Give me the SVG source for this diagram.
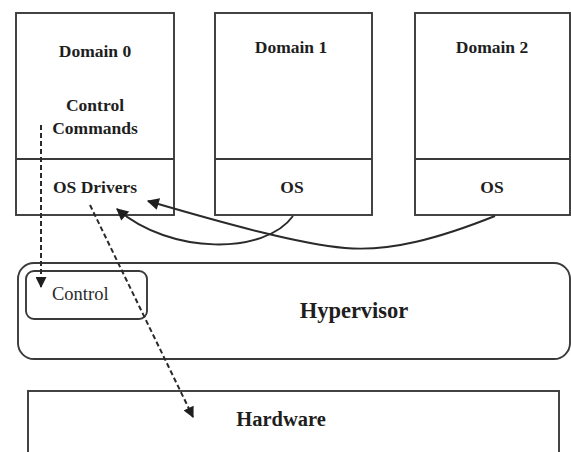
<svg xmlns="http://www.w3.org/2000/svg" width="571" height="452" viewBox="0 0 571 452">
<defs>
<style>
.box{fill:#fff;stroke:#3a3a3a;stroke-width:1.9}
.lbl{font-family:"Liberation Serif",serif;font-weight:bold;font-size:17.5px;fill:#1e1e1e;text-anchor:middle}
.reg{font-family:"Liberation Serif",serif;font-size:18.5px;fill:#2a2a2a}
.conn{fill:none;stroke:#2a2a2a;stroke-width:1.9}
.dash{fill:none;stroke:#2a2a2a;stroke-width:2;stroke-dasharray:5 3}
</style>
<marker id="ah" viewBox="0 0 10 10" refX="9" refY="5" markerWidth="12" markerHeight="11" markerUnits="userSpaceOnUse" orient="auto">
<path d="M0,0 L10,5 L0,10 z" fill="#1e1e1e"/>
</marker>
<marker id="ah2" viewBox="0 0 10 10" refX="9" refY="5" markerWidth="13" markerHeight="12" markerUnits="userSpaceOnUse" orient="auto">
<path d="M0,0 L10,5 L0,10 z" fill="#1e1e1e"/>
</marker>
</defs>
<rect width="571" height="452" fill="#fff"/>
<g id="domain0">
<rect class="box" x="16" y="13" width="158" height="202"/>
<line class="box" x1="16" y1="159" x2="174" y2="159"/>
<text class="lbl" x="95" y="57">Domain 0</text>
<text class="lbl" x="95" y="111">Control</text>
<text class="lbl" x="95" y="134">Commands</text>
<text class="lbl" x="95" y="193">OS Drivers</text>
</g>
<g id="domain1">
<rect class="box" x="215" y="13" width="157" height="202"/>
<line class="box" x1="215" y1="159" x2="372" y2="159"/>
<text class="lbl" x="291" y="53">Domain 1</text>
<text class="lbl" x="292" y="193">OS</text>
</g>
<g id="domain2">
<rect class="box" x="415" y="13" width="155" height="202"/>
<line class="box" x1="415" y1="159" x2="570" y2="159"/>
<text class="lbl" x="492" y="53">Domain 2</text>
<text class="lbl" x="492" y="193">OS</text>
</g>
<g id="hypervisor">
<rect class="box" x="18" y="263" width="552" height="96" rx="16"/>
<text class="lbl" x="354" y="318" style="font-size:22.5px">Hypervisor</text>
</g>
<g id="control">
<rect class="box" x="26" y="271" width="121" height="48" rx="8"/>
<text class="reg" x="52" y="300">Control</text>
</g>
<g id="hardware">
<rect class="box" x="28" y="391" width="531" height="70"/>
<text class="lbl" x="281" y="426" style="font-size:20.5px">Hardware</text>
</g>
<g id="connectors">
<path class="conn" d="M293,216 C265,255 170,255 117,209" marker-end="url(#ah2)"/>
<path class="conn" d="M495,216 C440,238 390,252 345,248 C300,244 230,225 148,201" marker-end="url(#ah2)"/>
<path class="dash" d="M41,125 L41,287" marker-end="url(#ah)"/>
<path class="dash" d="M90,205 L193,417" marker-end="url(#ah)"/>
</g>
</svg>
